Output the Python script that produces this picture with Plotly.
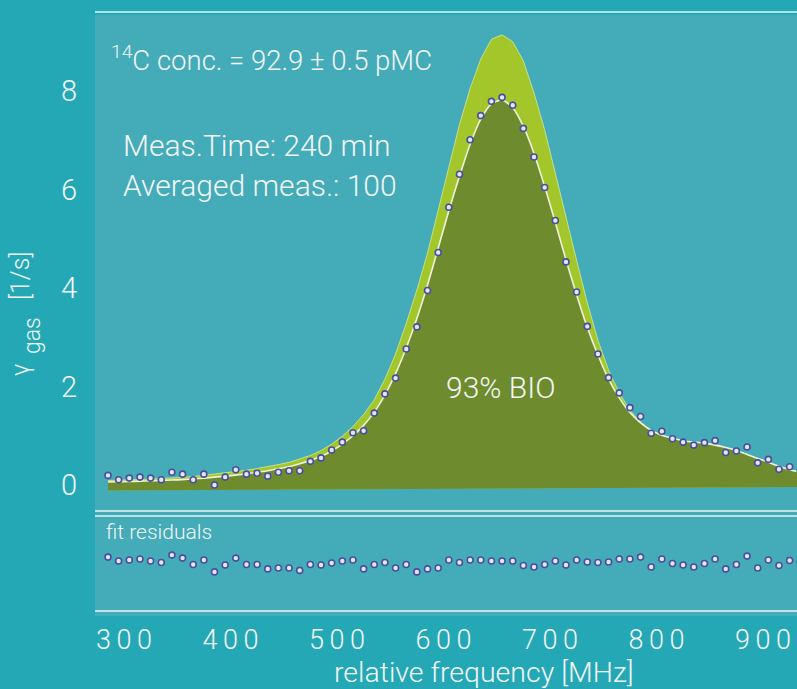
import plotly.graph_objects as go

# ---------------- data ----------------
freqs = [285, 295, 305, 315, 325, 335, 345, 355, 365, 375,
         385, 395, 405, 415, 425, 435, 445, 455, 465, 475,
         485, 495, 505, 515, 525, 535, 545, 555, 565, 575,
         585, 595, 605, 615, 625, 635, 645, 655, 665, 675,
         685, 695, 705, 715, 725, 735, 745, 755, 765, 775,
         785, 795, 805, 815, 825, 835, 845, 855, 865, 875,
         885, 895, 905, 915, 925, 935]

measured = [0.195, 0.106, 0.14, 0.16, 0.14, 0.105, 0.26, 0.22, 0.105, 0.22,
            0.0, 0.16, 0.31, 0.22, 0.24, 0.18, 0.26, 0.29, 0.29, 0.48,
            0.55, 0.71, 0.87, 1.06, 1.10, 1.46, 1.85, 2.17, 2.76, 3.21,
            3.95, 4.72, 5.64, 6.31, 7.01, 7.50, 7.79, 7.87, 7.71, 7.24,
            6.66, 6.04, 5.37, 4.53, 3.92, 3.22, 2.66, 2.18, 1.87, 1.57,
            1.39, 1.05, 1.09, 0.94, 0.87, 0.81, 0.86, 0.90, 0.66, 0.69,
            0.77, 0.45, 0.52, 0.32, 0.37, 0.29]

fit_bio = [0.06, 0.065, 0.07, 0.078, 0.085, 0.092, 0.10, 0.11, 0.122, 0.14,
           0.16, 0.18, 0.20, 0.23, 0.26, 0.29, 0.33, 0.37, 0.43, 0.50,
           0.58, 0.69, 0.83, 1.00, 1.21, 1.48, 1.83, 2.26, 2.78, 3.38,
           4.06, 4.81, 5.57, 6.27, 6.92, 7.43, 7.74, 7.82, 7.66, 7.28,
           6.73, 6.06, 5.33, 4.57, 3.86, 3.20, 2.64, 2.15, 1.77, 1.47,
           1.26, 1.11, 1.01, 0.95, 0.90, 0.87, 0.85, 0.81, 0.76, 0.70,
           0.62, 0.54, 0.46, 0.38, 0.31, 0.26]

full_modern = [0.09, 0.095, 0.10, 0.113, 0.12, 0.132, 0.14, 0.155, 0.172, 0.195,
               0.22, 0.245, 0.27, 0.30, 0.335, 0.37, 0.415, 0.46, 0.525, 0.60,
               0.70, 0.83, 0.99, 1.19, 1.43, 1.73, 2.15, 2.66, 3.28, 3.96,
               4.71, 5.59, 6.47, 7.32, 8.05, 8.65, 9.05, 9.14, 9.00, 8.61,
               7.96, 7.21, 6.33, 5.42, 4.56, 3.70, 2.94, 2.33, 1.87, 1.52,
               1.28, 1.11, 1.01, 0.95, 0.90, 0.87, 0.85, 0.81, 0.76, 0.70,
               0.62, 0.54, 0.46, 0.38, 0.31, 0.26]

residuals = [0.13, 0.05, 0.07, 0.09, 0.05, 0.02, 0.17, 0.11, -0.02, 0.07,
             -0.17, -0.03, 0.11, -0.02, -0.02, -0.11, -0.09, -0.09, -0.14, -0.02,
             -0.03, 0.01, 0.05, 0.07, -0.11, -0.02, 0.02, -0.09, -0.02, -0.17,
             -0.11, -0.09, 0.07, 0.02, 0.07, 0.07, 0.05, 0.05, 0.05, -0.04,
             -0.07, -0.02, 0.05, -0.03, 0.07, 0.03, 0.02, 0.03, 0.09, 0.09,
             0.13, -0.07, 0.09, 0.00, -0.03, -0.07, 0.00, 0.09, -0.11, -0.02,
             0.15, -0.09, 0.07, -0.04, 0.06, 0.04]

baseline_left = -0.11
baseline_right = -0.04

x_tick_vals = [300, 400, 500, 600, 700, 800, 900]
x_tick_text = ["3\u20090\u20090", "4\u20090\u20090", "5\u20090\u20090", "6\u20090\u20090",
               "7\u20090\u20090", "8\u20090\u20090", "9\u20090\u20090"]
y_tick_vals = [0, 2, 4, 6, 8]
y_tick_text = ["0", "2", "4", "6", "8"]

# ---------------- style ----------------
W, H = 797, 689
BG = "#25a8b6"
PANEL = "#44abb8"
LIGHT_GREEN = "#a3c62b"
DARK_GREEN = "#6e8b2e"
TXT = "#f2f6f6"
FONT = "Roboto"
PT_LINE = "#4a4e9c"
PT_FILL = "#e4e7f7"


def px_x(p):
    return p / W


def px_y(p):
    return 1 - p / H


fig = go.Figure()

# light green (100% modern reference) area
fig.add_trace(go.Scatter(
    x=freqs + [freqs[-1], freqs[0]],
    y=full_modern + [baseline_right, baseline_left],
    fill="toself", fillcolor=LIGHT_GREEN, mode="lines",
    line=dict(width=0), xaxis="x", yaxis="y", hoverinfo="skip", showlegend=False))
fig.add_trace(go.Scatter(
    x=freqs, y=full_modern, mode="lines",
    line=dict(color="rgba(215,232,150,0.8)", width=1),
    xaxis="x", yaxis="y", hoverinfo="skip", showlegend=False))

# dark green (bio) area
fig.add_trace(go.Scatter(
    x=freqs + [freqs[-1], freqs[0]],
    y=fit_bio + [baseline_right, baseline_left],
    fill="toself", fillcolor=DARK_GREEN, mode="lines",
    line=dict(width=0), xaxis="x", yaxis="y", hoverinfo="skip", showlegend=False))

# fit line
fig.add_trace(go.Scatter(
    x=freqs, y=fit_bio, mode="lines",
    line=dict(color="#eef2dc", width=1.6, shape="spline", smoothing=0.6),
    xaxis="x", yaxis="y", hoverinfo="skip", showlegend=False))

# measured points
marker = dict(size=6, color=PT_FILL, line=dict(color=PT_LINE, width=1.6))
fig.add_trace(go.Scatter(
    x=freqs, y=measured, mode="markers", marker=marker,
    xaxis="x", yaxis="y", showlegend=False))

# residual points
fig.add_trace(go.Scatter(
    x=freqs, y=residuals, mode="markers", marker=marker,
    xaxis="x2", yaxis="y2", showlegend=False))

x_range = [272.8, 931.9]
x_dom = [px_x(95), 1]

fig.update_layout(
    width=W, height=H,
    margin=dict(l=0, r=0, t=0, b=0),
    paper_bgcolor=BG, plot_bgcolor="rgba(0,0,0,0)",
    font=dict(family=FONT, color=TXT, weight=300),
    xaxis=dict(domain=x_dom, range=x_range, anchor="y", showticklabels=False,
               showgrid=False, zeroline=False, showline=False, ticks=""),
    yaxis=dict(domain=[px_y(511), px_y(15)], range=[-0.528, 9.543], anchor="x",
               tickvals=y_tick_vals, ticktext=y_tick_text,
               tickfont=dict(size=29, color=TXT, family=FONT, weight=300),
               showgrid=False, zeroline=False, showline=False, ticks="",
               ticklabelstandoff=17),
    xaxis2=dict(domain=x_dom, range=x_range, anchor="y2",
                tickvals=x_tick_vals, ticktext=x_tick_text,
                tickfont=dict(size=27, color=TXT, family=FONT, weight=300),
                showgrid=False, zeroline=False, showline=False, ticks="",
                ticklabelstandoff=10),
    yaxis2=dict(domain=[px_y(611), px_y(516)], range=[-0.964, 0.964], anchor="x2",
                showticklabels=False, showgrid=False, zeroline=False,
                showline=False, ticks=""),
)

# panel background and white rules
fig.add_shape(type="rect", xref="paper", yref="paper",
              x0=px_x(95), x1=1, y0=px_y(616), y1=px_y(15),
              fillcolor=PANEL, line=dict(width=0), layer="below")
for py in [12, 511, 516, 611]:
    fig.add_shape(type="line", xref="paper", yref="paper",
                  x0=px_x(95), x1=1, y0=px_y(py), y1=px_y(py),
                  line=dict(color="rgba(240,248,248,0.95)", width=1.5), layer="above")

ann = []
ann.append(dict(text="<sup>14</sup>C conc. = 92.9 ± 0.5 pMC", x=px_x(109), y=px_y(58),
                xanchor="left", yanchor="middle", font=dict(size=27.5)))
ann.append(dict(text="Meas.Time: 240 min", x=px_x(121), y=px_y(145),
                xanchor="left", yanchor="middle", font=dict(size=30)))
ann.append(dict(text="Averaged meas.: 100", x=px_x(121), y=px_y(185),
                xanchor="left", yanchor="middle", font=dict(size=30)))
ann.append(dict(text="93% BIO", x=px_x(500), y=px_y(387),
                xanchor="center", yanchor="middle", font=dict(size=30)))
ann.append(dict(text="fit residuals", x=px_x(104), y=px_y(532),
                xanchor="left", yanchor="middle", font=dict(size=21)))
ann.append(dict(text="relative frequency [MHz]", x=px_x(484), y=px_y(672),
                xanchor="center", yanchor="middle", font=dict(size=28.5)))
# y-axis title: "γ gas [1/s]" with "gas" lowered like a subscript
ann.append(dict(text="γ", x=px_x(20), y=px_y(370),
                xanchor="center", yanchor="middle", textangle=-90, font=dict(size=25)))
ann.append(dict(text="gas", x=px_x(32), y=px_y(335),
                xanchor="center", yanchor="middle", textangle=-90, font=dict(size=23)))
ann.append(dict(text="[1/s]", x=px_x(20), y=px_y(276),
                xanchor="center", yanchor="middle", textangle=-90, font=dict(size=25)))
for a in ann:
    a.update(xref="paper", yref="paper", showarrow=False)
    a["font"].update(color=TXT, family=FONT, weight=300)
fig.update_layout(annotations=ann)

fig.write_html("out.html",
               config={"displayModeBar": False},
               post_script="document.body.style.margin='0';"
                           "document.body.style.overflow='hidden';")
